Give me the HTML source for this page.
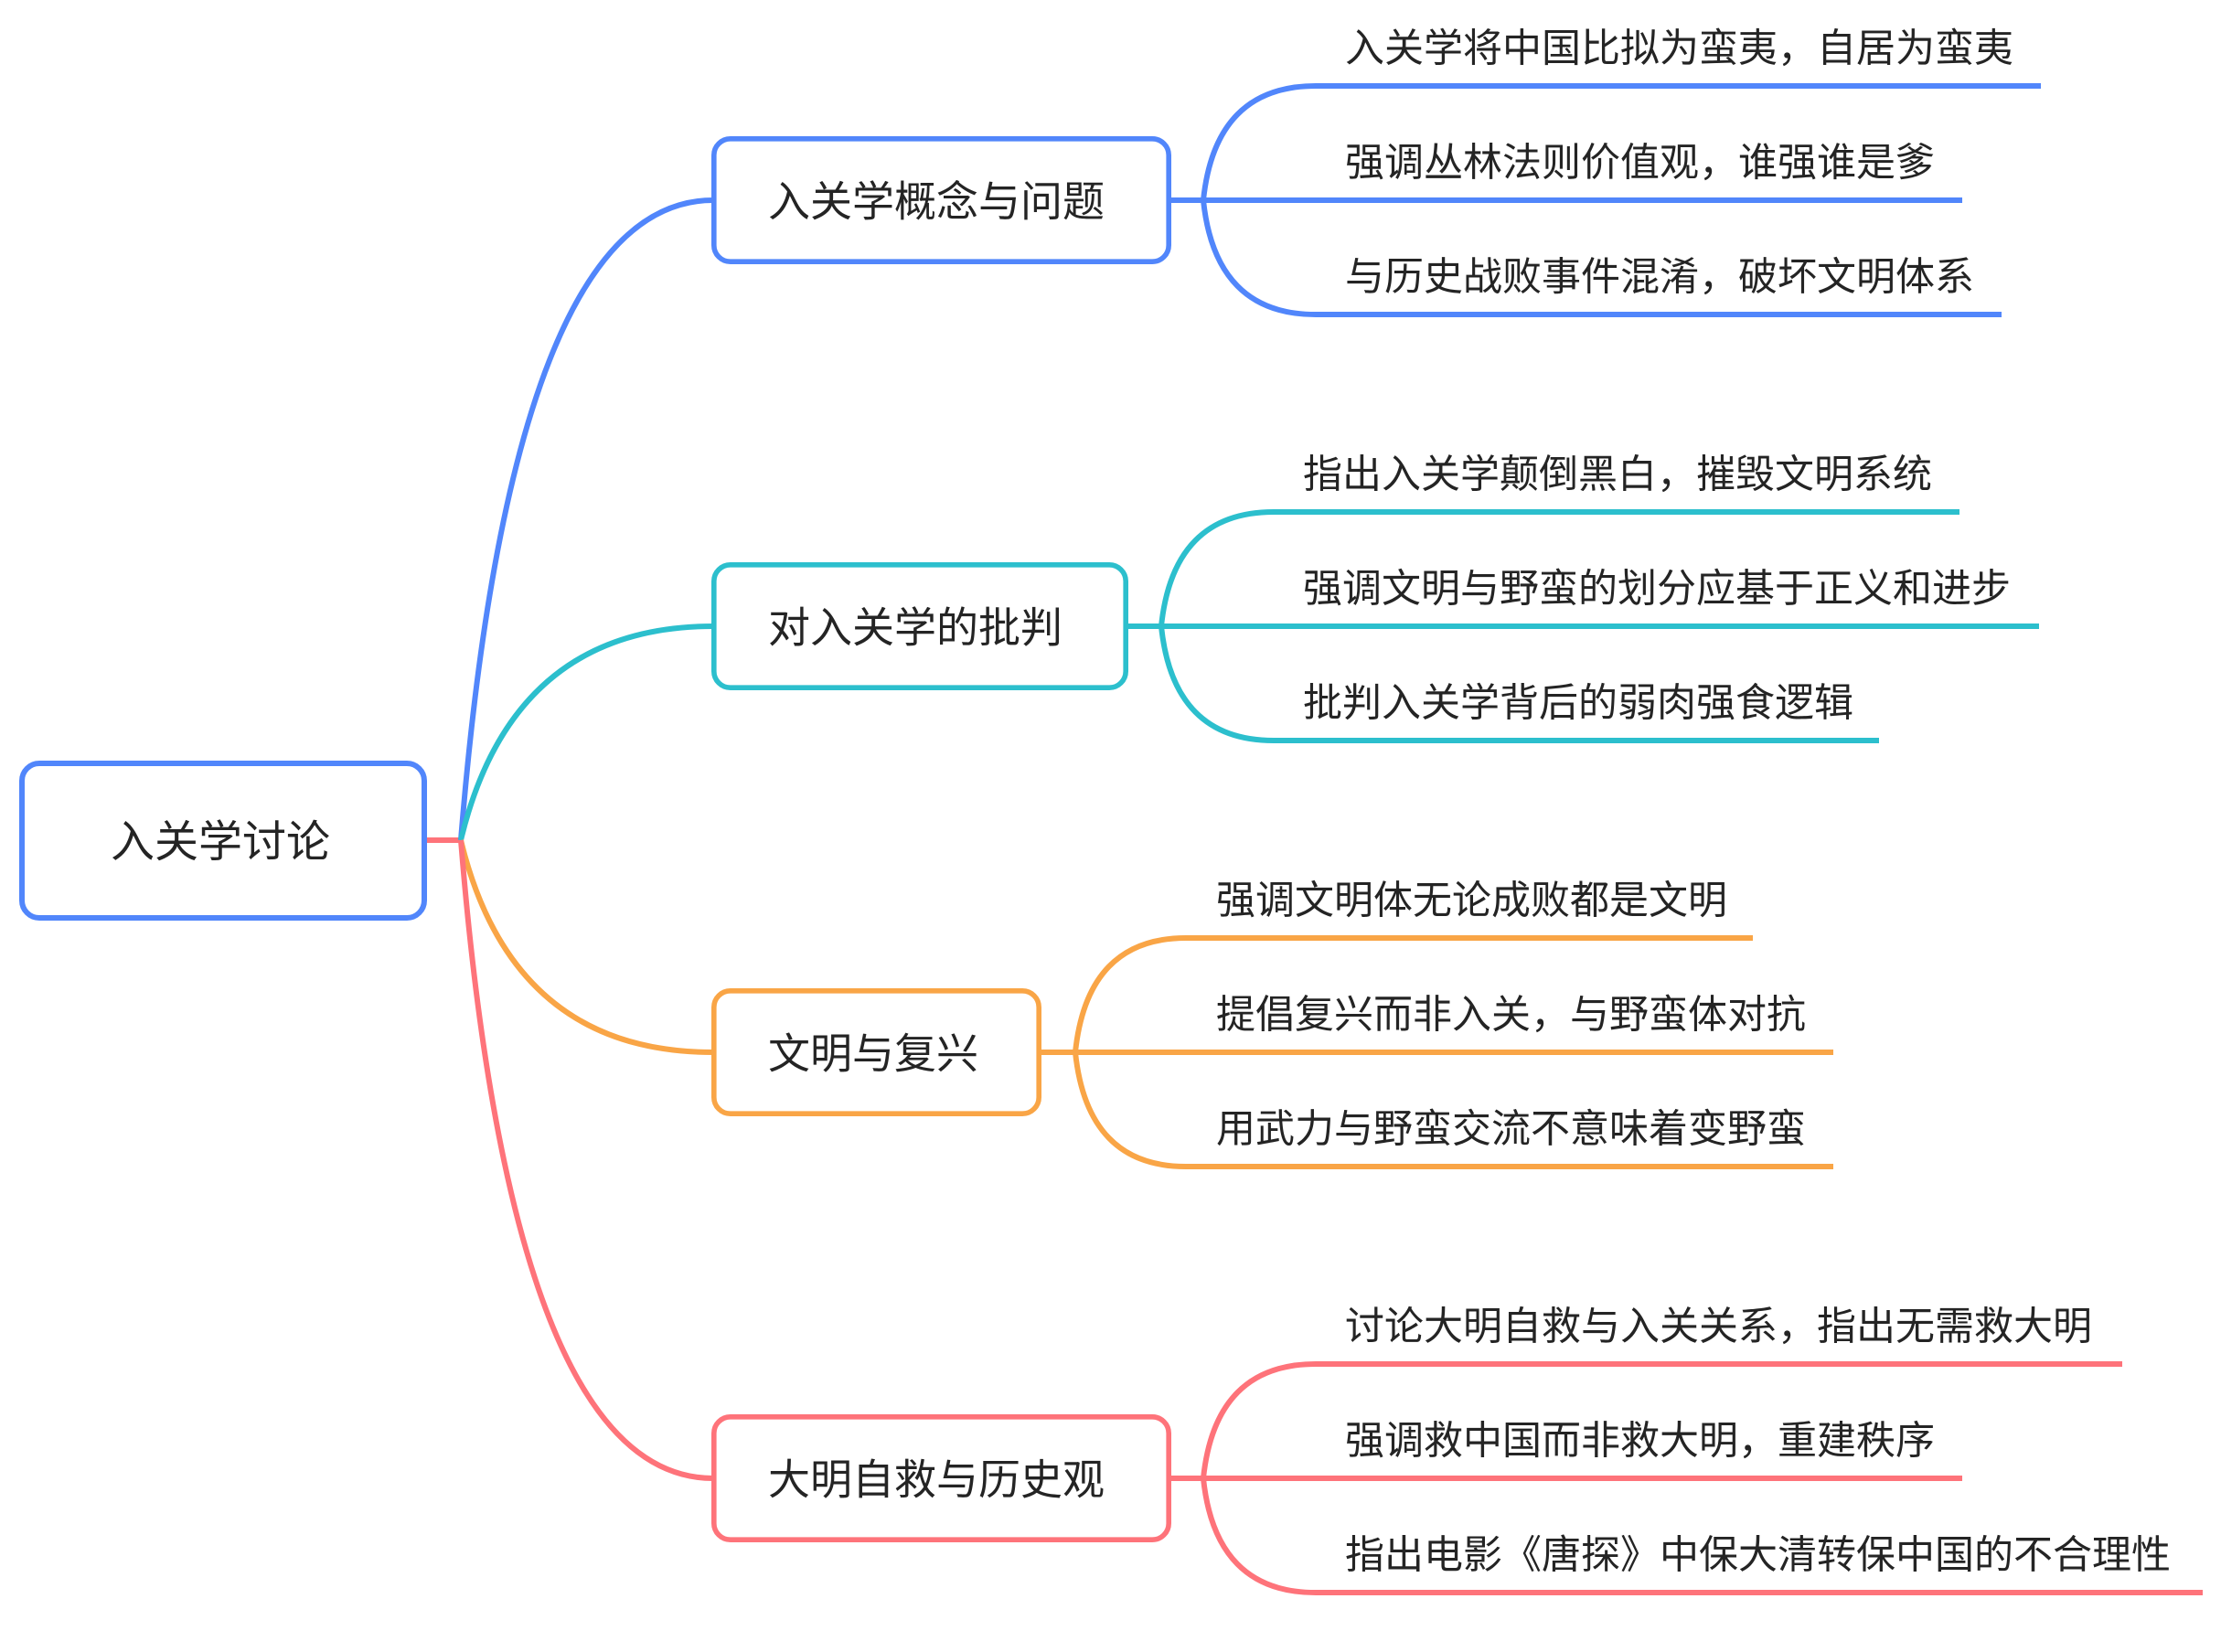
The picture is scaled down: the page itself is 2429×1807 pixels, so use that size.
<!DOCTYPE html>
<html>
<head>
<meta charset="utf-8">
<style>
  html, body { margin: 0; padding: 0; background: #ffffff; }
  body { width: 2429px; height: 1807px; overflow: hidden; }
  svg { display: block; }
  text { font-family: "Liberation Sans", "Noto Sans CJK SC", sans-serif; fill: #242424; }
  .root { font-size: 48px; }
  .l1 { font-size: 46px; }
  .sub { font-size: 43px; }
</style>
</head>
<body>
<svg width="2429" height="1807" viewBox="0 0 2429 1807" xmlns="http://www.w3.org/2000/svg">
  <rect x="0" y="0" width="2429" height="1807" fill="#ffffff"/>

  <!-- Root connectors -->
  <g fill="none" stroke-width="6" stroke-linecap="butt">
    <path d="M 466 919 H 505" stroke="#fe737a"/>
    <path d="M 504 919 Q 560 219 780 219" stroke="#5186fb"/>
    <path d="M 504 919 Q 560 685 780 685" stroke="#2cbfcd"/>
    <path d="M 504 919 Q 560 1151 780 1151" stroke="#f9a546"/>
    <path d="M 504 919 Q 560 1617 780 1617" stroke="#fe737a"/>
  </g>

  <!-- Root box -->
  <rect x="24" y="835" width="440" height="169" rx="19" ry="19" fill="#ffffff" stroke="#5186fb" stroke-width="6"/>
  <text class="root" x="121" y="937">入关学讨论</text>

  <!-- Group 1 (blue) -->
  <g fill="none" stroke="#5186fb" stroke-width="6">
    <path d="M 1278 219 H 1316"/>
    <path d="M 1316 219 Q 1329 94 1439 94 H 2232"/>
    <path d="M 1316 219 H 2146"/>
    <path d="M 1316 219 Q 1329 344 1439 344 H 2189"/>
  </g>
  <rect x="780.8" y="151.8" width="497.4" height="134.4" rx="18" ry="18" fill="#ffffff" stroke="#5186fb" stroke-width="5.6"/>
  <text class="l1" x="840" y="236.5">入关学概念与问题</text>
  <text class="sub" x="1471" y="67.3">入关学将中国比拟为蛮夷，自居为蛮夷</text>
  <text class="sub" x="1471" y="192.3">强调丛林法则价值观，谁强谁是爹</text>
  <text class="sub" x="1471" y="317.3">与历史战败事件混淆，破坏文明体系</text>

  <!-- Group 2 (teal) -->
  <g fill="none" stroke="#2cbfcd" stroke-width="6">
    <path d="M 1231 685 H 1270"/>
    <path d="M 1270 685 Q 1283 560 1393 560 H 2143"/>
    <path d="M 1270 685 H 2230"/>
    <path d="M 1270 685 Q 1283 810 1393 810 H 2055"/>
  </g>
  <rect x="780.8" y="617.8" width="450.4" height="134.4" rx="18" ry="18" fill="#ffffff" stroke="#2cbfcd" stroke-width="5.6"/>
  <text class="l1" x="840" y="702.5">对入关学的批判</text>
  <text class="sub" x="1425" y="533.3">指出入关学颠倒黑白，摧毁文明系统</text>
  <text class="sub" x="1425" y="658.3">强调文明与野蛮的划分应基于正义和进步</text>
  <text class="sub" x="1425" y="783.3">批判入关学背后的弱肉强食逻辑</text>

  <!-- Group 3 (orange) -->
  <g fill="none" stroke="#f9a546" stroke-width="6">
    <path d="M 1136 1151 H 1176"/>
    <path d="M 1176 1151 Q 1189 1026 1297 1026 H 1917"/>
    <path d="M 1176 1151 H 2005"/>
    <path d="M 1176 1151 Q 1189 1276 1297 1276 H 2005"/>
  </g>
  <rect x="780.8" y="1083.8" width="355.4" height="134.4" rx="18" ry="18" fill="#ffffff" stroke="#f9a546" stroke-width="5.6"/>
  <text class="l1" x="840" y="1168.5">文明与复兴</text>
  <text class="sub" x="1330" y="999.3">强调文明体无论成败都是文明</text>
  <text class="sub" x="1330" y="1124.3">提倡复兴而非入关，与野蛮体对抗</text>
  <text class="sub" x="1330" y="1249.3">用武力与野蛮交流不意味着变野蛮</text>

  <!-- Group 4 (red) -->
  <g fill="none" stroke="#fe737a" stroke-width="6">
    <path d="M 1278 1617 H 1316"/>
    <path d="M 1316 1617 Q 1329 1492 1439 1492 H 2321"/>
    <path d="M 1316 1617 H 2146"/>
    <path d="M 1316 1617 Q 1329 1742 1439 1742 H 2409"/>
  </g>
  <rect x="780.8" y="1549.8" width="497.4" height="134.4" rx="18" ry="18" fill="#ffffff" stroke="#fe737a" stroke-width="5.6"/>
  <text class="l1" x="840" y="1634.5">大明自救与历史观</text>
  <text class="sub" x="1471" y="1465.3">讨论大明自救与入关关系，指出无需救大明</text>
  <text class="sub" x="1471" y="1590.3">强调救中国而非救大明，重建秩序</text>
  <text class="sub" x="1471" y="1715.3">指出电影《唐探》中保大清转保中国的不合理性</text>
</svg>
</body>
</html>
